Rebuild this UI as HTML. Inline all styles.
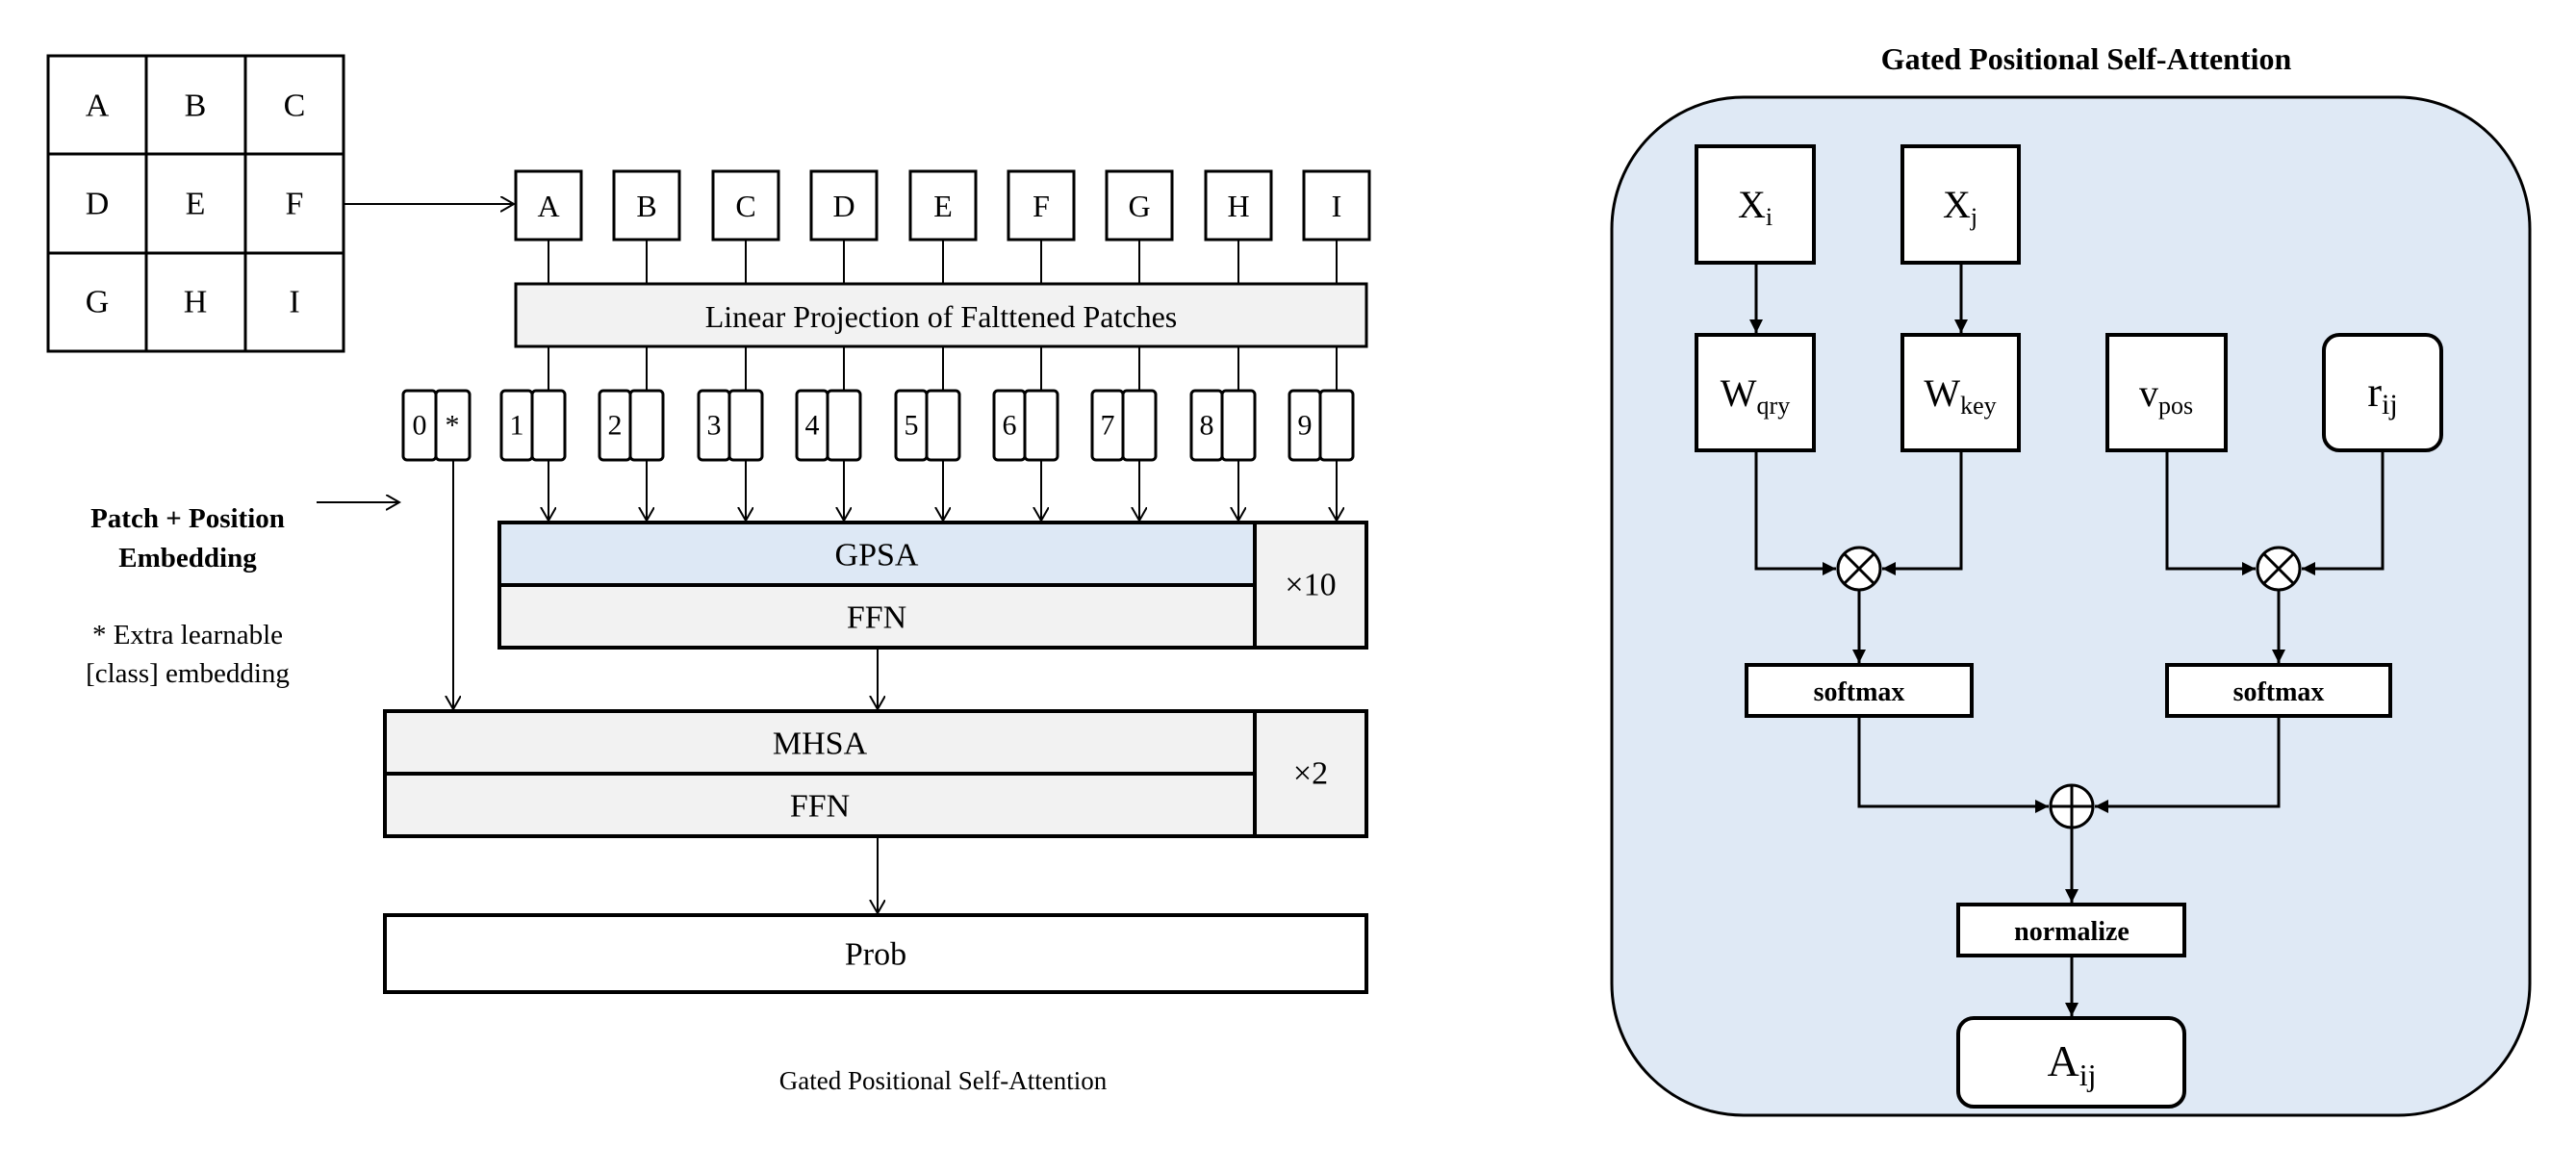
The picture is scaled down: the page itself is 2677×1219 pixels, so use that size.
<!DOCTYPE html>
<html><head><meta charset="utf-8"><style>html,body{margin:0;padding:0;background:#fff}svg{display:block}</style></head>
<body>
<svg width="2677" height="1219" viewBox="0 0 2677 1219" xmlns="http://www.w3.org/2000/svg" font-family="Liberation Serif, serif">
<defs>
<marker id="v" markerWidth="20" markerHeight="20" refX="14" refY="8" orient="auto" markerUnits="userSpaceOnUse"><path d="M0,0 L14,8 L0,16" fill="none" stroke="#000" stroke-width="2"/></marker>
<marker id="t" markerWidth="20" markerHeight="20" refX="14" refY="7" orient="auto" markerUnits="userSpaceOnUse"><path d="M0,0 L14,7 L0,14 z" fill="#000"/></marker>
</defs>
<g stroke="#000" stroke-width="3" fill="#fff">
<rect x="50" y="58" width="307" height="307"/>
<line x1="152" y1="58" x2="152" y2="365"/><line x1="255" y1="58" x2="255" y2="365"/>
<line x1="50" y1="160" x2="357" y2="160"/><line x1="50" y1="263" x2="357" y2="263"/>
</g>
<g font-size="34" text-anchor="middle" dominant-baseline="central">
<text x="101" y="110">A</text><text x="203" y="110">B</text><text x="306" y="110">C</text>
<text x="101" y="212">D</text><text x="203" y="212">E</text><text x="306" y="212">F</text>
<text x="101" y="314">G</text><text x="203" y="314">H</text><text x="306" y="314">I</text>
</g>
<line x1="357" y1="212" x2="534" y2="212" stroke="#000" stroke-width="2" marker-end="url(#v)"/>
<!-- patches -->
<g id="patches">
<g stroke="#000" stroke-width="2">
<line x1="570" y1="249" x2="570" y2="295"/><line x1="672" y1="249" x2="672" y2="295"/><line x1="775" y1="249" x2="775" y2="295"/><line x1="877" y1="249" x2="877" y2="295"/><line x1="980" y1="249" x2="980" y2="295"/><line x1="1082" y1="249" x2="1082" y2="295"/><line x1="1184" y1="249" x2="1184" y2="295"/><line x1="1287" y1="249" x2="1287" y2="295"/><line x1="1389" y1="249" x2="1389" y2="295"/>
<line x1="570" y1="360" x2="570" y2="406"/><line x1="672" y1="360" x2="672" y2="406"/><line x1="775" y1="360" x2="775" y2="406"/><line x1="877" y1="360" x2="877" y2="406"/><line x1="980" y1="360" x2="980" y2="406"/><line x1="1082" y1="360" x2="1082" y2="406"/><line x1="1184" y1="360" x2="1184" y2="406"/><line x1="1287" y1="360" x2="1287" y2="406"/><line x1="1389" y1="360" x2="1389" y2="406"/>
</g>
<g stroke="#000" stroke-width="3" fill="#fff">
<rect x="536" y="178" width="68" height="71"/><rect x="638" y="178" width="68" height="71"/><rect x="741" y="178" width="68" height="71"/><rect x="843" y="178" width="68" height="71"/><rect x="946" y="178" width="68" height="71"/><rect x="1048" y="178" width="68" height="71"/><rect x="1150" y="178" width="68" height="71"/><rect x="1253" y="178" width="68" height="71"/><rect x="1355" y="178" width="68" height="71"/>
</g>
<g font-size="32" text-anchor="middle" dominant-baseline="central">
<text x="570" y="214">A</text><text x="672" y="214">B</text><text x="775" y="214">C</text><text x="877" y="214">D</text><text x="980" y="214">E</text><text x="1082" y="214">F</text><text x="1184" y="214">G</text><text x="1287" y="214">H</text><text x="1389" y="214">I</text>
</g>
</g>
<rect x="536" y="295" width="884" height="65" fill="#f2f2f2" stroke="#000" stroke-width="3"/>
<text x="978" y="329" font-size="32" text-anchor="middle" dominant-baseline="central">Linear Projection of Falttened Patches</text>
<!-- tokens -->
<g stroke="#000" stroke-width="3" fill="#fff">
<rect x="419" y="406" width="34" height="72" rx="4"/><rect x="453" y="406" width="35" height="72" rx="4"/>
</g>
<text x="436" y="442" font-size="30" text-anchor="middle" dominant-baseline="central">0</text>
<text x="470" y="442" font-size="30" text-anchor="middle" dominant-baseline="central">*</text>
<g id="tok" stroke="#000" stroke-width="3" fill="#fff">
<rect x="521" y="406" width="32" height="72" rx="4"/><rect x="553" y="406" width="34" height="72" rx="4"/>
<rect x="623" y="406" width="32" height="72" rx="4"/><rect x="655" y="406" width="34" height="72" rx="4"/>
<rect x="726" y="406" width="32" height="72" rx="4"/><rect x="758" y="406" width="34" height="72" rx="4"/>
<rect x="828" y="406" width="32" height="72" rx="4"/><rect x="860" y="406" width="34" height="72" rx="4"/>
<rect x="931" y="406" width="32" height="72" rx="4"/><rect x="963" y="406" width="34" height="72" rx="4"/>
<rect x="1033" y="406" width="32" height="72" rx="4"/><rect x="1065" y="406" width="34" height="72" rx="4"/>
<rect x="1135" y="406" width="32" height="72" rx="4"/><rect x="1167" y="406" width="34" height="72" rx="4"/>
<rect x="1238" y="406" width="32" height="72" rx="4"/><rect x="1270" y="406" width="34" height="72" rx="4"/>
<rect x="1340" y="406" width="32" height="72" rx="4"/><rect x="1372" y="406" width="34" height="72" rx="4"/>
</g>
<g font-size="30" text-anchor="middle" dominant-baseline="central">
<text x="537" y="442">1</text><text x="639" y="442">2</text><text x="742" y="442">3</text><text x="844" y="442">4</text><text x="947" y="442">5</text><text x="1049" y="442">6</text><text x="1151" y="442">7</text><text x="1254" y="442">8</text><text x="1356" y="442">9</text>
</g>
<g stroke="#000" stroke-width="2" marker-end="url(#v)">
<line x1="570" y1="478" x2="570" y2="541"/><line x1="672" y1="478" x2="672" y2="541"/><line x1="775" y1="478" x2="775" y2="541"/><line x1="877" y1="478" x2="877" y2="541"/><line x1="980" y1="478" x2="980" y2="541"/><line x1="1082" y1="478" x2="1082" y2="541"/><line x1="1184" y1="478" x2="1184" y2="541"/><line x1="1287" y1="478" x2="1287" y2="541"/><line x1="1389" y1="478" x2="1389" y2="541"/>
<line x1="471" y1="478" x2="471" y2="737"/>
<line x1="912" y1="673" x2="912" y2="737"/>
<line x1="912" y1="869" x2="912" y2="949"/>
<line x1="329" y1="522" x2="415" y2="522"/>
</g>
<!-- GPSA block -->
<g stroke="#000" stroke-width="4">
<rect x="519" y="543" width="785" height="65" fill="#dde8f5"/>
<rect x="519" y="608" width="785" height="65" fill="#f2f2f2"/>
<rect x="1304" y="543" width="116" height="130" fill="#f2f2f2"/>
</g>
<g font-size="34" text-anchor="middle" dominant-baseline="central">
<text x="911" y="577">GPSA</text><text x="911" y="642">FFN</text><text x="1362" y="608">×10</text>
</g>
<g stroke="#000" stroke-width="4">
<rect x="400" y="739" width="904" height="65" fill="#f2f2f2"/>
<rect x="400" y="804" width="904" height="65" fill="#f2f2f2"/>
<rect x="1304" y="739" width="116" height="130" fill="#f2f2f2"/>
<rect x="400" y="951" width="1020" height="80" fill="#fff"/>
</g>
<g font-size="34" text-anchor="middle" dominant-baseline="central">
<text x="852" y="773">MHSA</text><text x="852" y="838">FFN</text><text x="1362" y="804">×2</text><text x="910" y="992">Prob</text>
</g>
<text x="980" y="1123" font-size="27" text-anchor="middle" dominant-baseline="central">Gated Positional Self-Attention</text>
<g font-size="29" text-anchor="middle" dominant-baseline="central">
<text x="195" y="539" font-weight="bold">Patch + Position</text>
<text x="195" y="580" font-weight="bold">Embedding</text>
<text x="195" y="660">* Extra learnable</text>
<text x="195" y="700">[class] embedding</text>
</g>
<!-- right panel -->
<text x="2168" y="61" font-size="32" font-weight="bold" text-anchor="middle" dominant-baseline="central">Gated Positional Self-Attention</text>
<rect x="1675" y="101" width="954" height="1058" rx="137" fill="#dfe9f5" stroke="#000" stroke-width="3"/>
<g stroke="#000" stroke-width="4" fill="#fff">
<rect x="1763" y="152" width="122" height="121"/>
<rect x="1977" y="152" width="121" height="121"/>
<rect x="1763" y="348" width="122" height="120"/>
<rect x="1977" y="348" width="121" height="120"/>
<rect x="2190" y="348" width="123" height="120"/>
<rect x="2415" y="348" width="122" height="120" rx="16"/>
<rect x="1815" y="691" width="234" height="53"/>
<rect x="2252" y="691" width="232" height="53"/>
<rect x="2035" y="940" width="235" height="53"/>
<rect x="2035" y="1058" width="235" height="92" rx="16"/>
</g>
<g stroke="#000" stroke-width="3" fill="none">
<line x1="1825" y1="273" x2="1825" y2="346" marker-end="url(#t)"/>
<line x1="2038" y1="273" x2="2038" y2="346" marker-end="url(#t)"/>
<polyline points="1825,468 1825,591 1908,591" marker-end="url(#t)"/>
<polyline points="2038,468 2038,591 1956,591" marker-end="url(#t)"/>
<polyline points="2252,468 2252,591 2344,591" marker-end="url(#t)"/>
<polyline points="2476,468 2476,591 2392,591" marker-end="url(#t)"/>
<line x1="1932" y1="613" x2="1932" y2="689" marker-end="url(#t)"/>
<line x1="2368" y1="613" x2="2368" y2="689" marker-end="url(#t)"/>
<polyline points="1932,744 1932,838 2129,838" marker-end="url(#t)"/>
<polyline points="2368,744 2368,838 2177,838" marker-end="url(#t)"/>
<line x1="2153" y1="860" x2="2153" y2="938" marker-end="url(#t)"/>
<line x1="2153" y1="993" x2="2153" y2="1056" marker-end="url(#t)"/>
<circle cx="1932" cy="591" r="22" fill="#fff"/>
<line x1="1916" y1="575" x2="1948" y2="607"/><line x1="1948" y1="575" x2="1916" y2="607"/>
<circle cx="2368" cy="591" r="22" fill="#fff"/>
<line x1="2352" y1="575" x2="2384" y2="607"/><line x1="2384" y1="575" x2="2352" y2="607"/>
<circle cx="2153" cy="838" r="22" fill="#fff"/>
<line x1="2131" y1="838" x2="2175" y2="838"/><line x1="2153" y1="816" x2="2153" y2="860"/>
</g>
<g text-anchor="middle">
<text x="1824" y="226" font-size="40">X<tspan font-size="26" dy="8">i</tspan></text>
<text x="2037" y="226" font-size="40">X<tspan font-size="26" dy="8">j</tspan></text>
<text x="1824" y="422" font-size="40">W<tspan font-size="26" dy="8">qry</tspan></text>
<text x="2037" y="422" font-size="40">W<tspan font-size="26" dy="8">key</tspan></text>
<text x="2251" y="422" font-size="40">v<tspan font-size="26" dy="8">pos</tspan></text>
<text x="2476" y="422" font-size="44">r<tspan font-size="30" dy="8">ij</tspan></text>
<text x="2153" y="1118" font-size="46">A<tspan font-size="32" dy="10">ij</tspan></text>
<text x="1932" y="728" font-size="28" font-weight="bold">softmax</text>
<text x="2368" y="728" font-size="28" font-weight="bold">softmax</text>
<text x="2153" y="977" font-size="28" font-weight="bold">normalize</text>
</g>
</svg>
</body></html>
